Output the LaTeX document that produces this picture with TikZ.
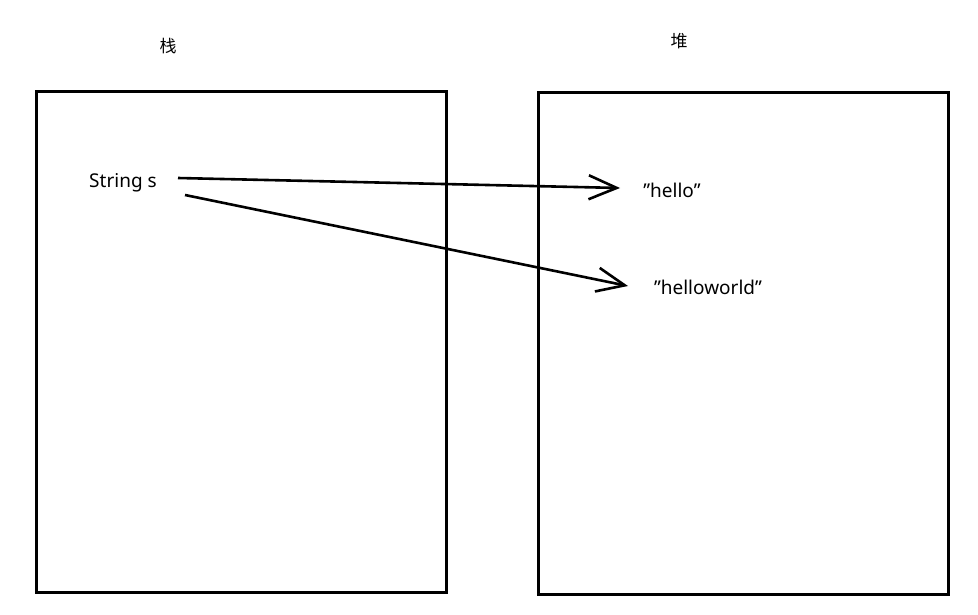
\documentclass[tikz,border=0pt]{standalone}
\usepackage{fontspec}
\setmainfont{Noto Sans}
\newfontfamily\cjk{Noto Sans CJK SC}
\usetikzlibrary{arrows.meta}
\newcommand{\dq}{\symbol{34}}
\begin{document}
\begin{tikzpicture}[x=1pt,y=-1pt,
  box/.style={draw=black, line width=3pt},
  lbl/.style={inner sep=0pt, font=\fontsize{19}{21}\selectfont},
  ttl/.style={inner sep=0pt, font=\cjk\fontsize{17}{19}\selectfont},
  ptr/.style={line width=2.6pt, -{Straight Barb[length=28pt, width=24pt, line width=2.6pt]}}]
\useasboundingbox (0,0) rectangle (978,615);
\draw[box] (36,92) rectangle (446,592);
\draw[box] (538,93) rectangle (948,594);
\node[ttl] (stack) at (168,46) {栈};
\node[ttl] (heap) at (679,41) {堆};
\node[lbl] (s) at (123,183) {String s};
\node[lbl] (hello) at (672,190) {\dq hello\dq};
\node[lbl] (hw) at (708,287) {\dq helloworld\dq};
\coordinate (s1) at (178,178);
\coordinate (s2) at (185,195);
\coordinate (t1) at (620,188);
\coordinate (t2) at (628,286);
\draw[ptr] (s1) -- (t1);
\draw[ptr] (s2) -- (t2);
\end{tikzpicture}
\end{document}
